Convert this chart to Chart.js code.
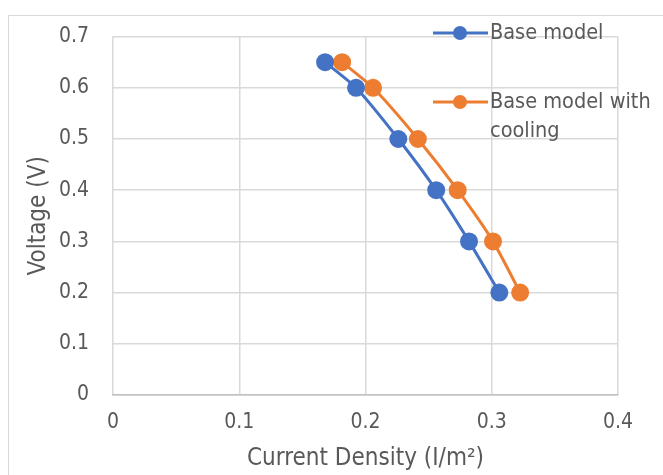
<!DOCTYPE html>
<html>
<head>
<meta charset="utf-8">
<script src="https://cdn.jsdelivr.net/npm/chart.js@4.4.1/dist/chart.umd.min.js"></script>
<style>
    html, body { margin: 0; padding: 0; background: #fff; }
    .frame {
        position: absolute; left: 8px; top: 15px; width: 700px; height: 500px;
        border-left: 1px solid #d9d9d9; border-top: 1px solid #d9d9d9;
    }
    #wrap { position: relative; width: 663px; height: 475px; }
</style>
</head>
<body>
<div id="wrap">
    <div class="frame"></div>
    <canvas id="ivChart" width="663" height="475"></canvas>
</div>
<script>
const voltage = [0.65, 0.6, 0.5, 0.4, 0.3, 0.2];
const baseCurrent = [0.168, 0.1925, 0.226, 0.256, 0.282, 0.306];
const coolingCurrent = [0.1815, 0.206, 0.2415, 0.273, 0.301, 0.3225];
const seriesNames = ['Base model', 'Base model with cooling'];
const seriesColors = ['#4472c4', '#ed7d31'];
const xTicks = [0, 0.1, 0.2, 0.3, 0.4];
const yTicks = [0, 0.1, 0.2, 0.3, 0.4, 0.5, 0.6, 0.7];

const FONT = '"Liberation Sans Narrow", "DejaVu Sans Condensed", Roboto, sans-serif';
const TEXT = '#595959';

// legend drawn over the plot area, top right, like the original
const floatingLegend = {
    id: 'floatingLegend',
    afterDraw(chart) {
        const ctx = chart.ctx;
        const rows = [
            { y: 33, lines: ['Base model'] },
            { y: 102, lines: ['Base model with', 'cooling'] }
        ];
        ctx.save();
        rows.forEach((row, i) => {
            const ds = chart.data.datasets[i];
            ctx.strokeStyle = ds.borderColor;
            ctx.lineWidth = 3;
            ctx.beginPath();
            ctx.moveTo(433, row.y);
            ctx.lineTo(488, row.y);
            ctx.stroke();
            ctx.fillStyle = ds.backgroundColor;
            ctx.beginPath();
            ctx.arc(460, row.y, 7, 0, Math.PI * 2);
            ctx.fill();
            ctx.fillStyle = TEXT;
            ctx.font = '21.5px ' + FONT;
            ctx.textBaseline = 'middle';
            row.lines.forEach((t, j) => ctx.fillText(t, 490, row.y + j * 29));
        });
        ctx.restore();
    }
};

const makeSeries = (xs, i) => ({
    label: seriesNames[i],
    data: xs.map((x, k) => ({ x: x, y: voltage[k] })),
    borderColor: seriesColors[i],
    backgroundColor: seriesColors[i],
    borderWidth: 3,
    pointRadius: 7.5,
    pointHoverRadius: 7.5,
    tension: 0.2
});

new Chart(document.getElementById('ivChart'), {
    type: 'scatter',
    data: {
        datasets: [makeSeries(baseCurrent, 0), makeSeries(coolingCurrent, 1)]
    },
    options: {
        responsive: false,
        animation: false,
        showLine: true,
        layout: { padding: { left: 0, top: 35, right: 45, bottom: 0 } },
        plugins: { legend: { display: false }, tooltip: { enabled: false } },
        scales: {
            x: {
                type: 'linear', min: 0, max: 0.4,
                afterBuildTicks: s => { s.ticks = xTicks.map(v => ({ value: v })); },
                afterFit: s => { s.height = 80; },
                grid: { color: '#d9d9d9', lineWidth: 1.5, drawTicks: false },
                border: { color: '#bfbfbf', width: 1.5 },
                ticks: { color: TEXT, font: { family: FONT, size: 21 }, padding: 15 },
                title: {
                    display: true, text: 'Current Density (I/m²)', color: TEXT,
                    font: { family: FONT, size: 24 }, padding: { top: 0, bottom: 2 }
                }
            },
            y: {
                type: 'linear', min: 0, max: 0.7,
                afterBuildTicks: s => { s.ticks = yTicks.map(v => ({ value: v })); },
                afterFit: s => { s.width = 113; },
                grid: { color: '#d9d9d9', lineWidth: 1.5, drawTicks: false },
                border: { display: false },
                ticks: { color: TEXT, font: { family: FONT, size: 21 }, padding: 24 },
                title: {
                    display: true, text: 'Voltage (V)', color: TEXT,
                    font: { family: FONT, size: 24 }, padding: { top: 24, bottom: 0 }
                }
            }
        }
    },
    plugins: [floatingLegend]
});
</script>
</body>
</html>
